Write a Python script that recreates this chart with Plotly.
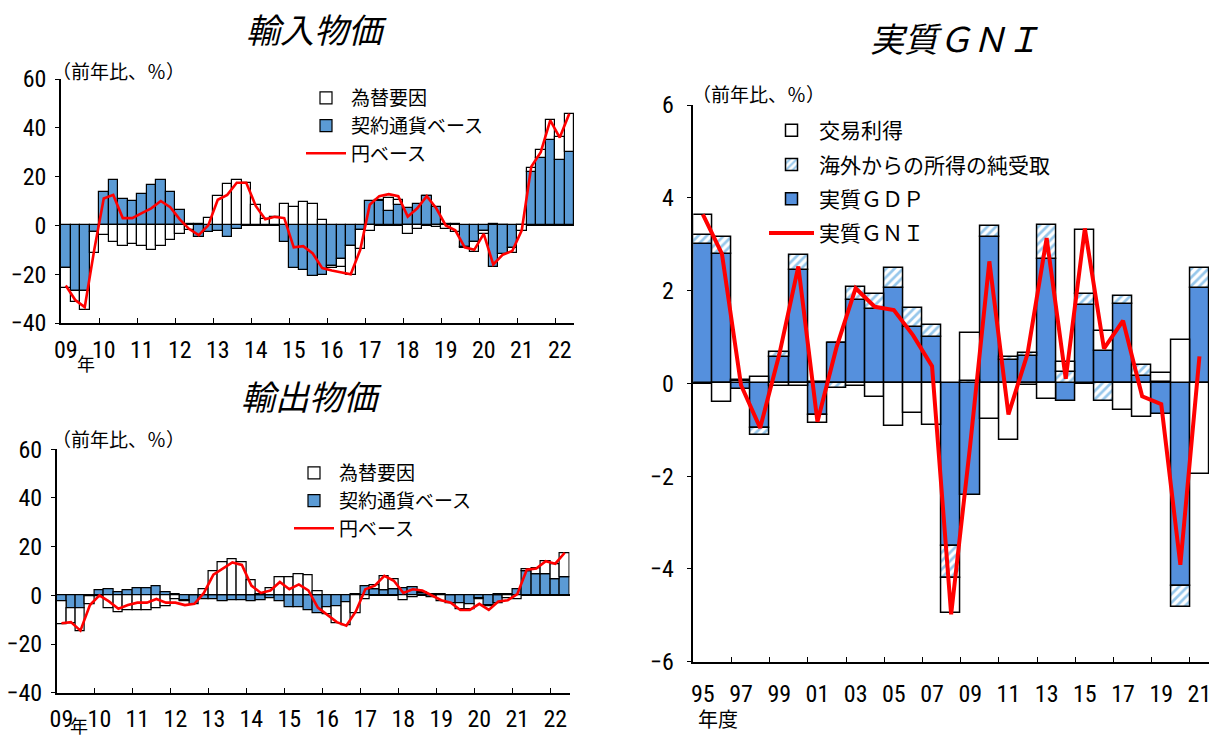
import plotly.graph_objects as go

# ---------------- data ----------------
# quarterly, 2009Q1 .. 2022Q2 (54 quarters)
q_start_year = 2009
n_quarters = 54

imp_contract = [-17.5, -26.8, -26.8, -2.7, 13.5, 18.6, 11.0, 10.1, 12.8, 16.6, 18.6, 13.5,
                6.2, 0.5, -4.8, -2.8, -2.1, -4.8, -1.4, -0.2, -0.3, 0.1, 0.1, -6.6,
                -17.5, -18.2, -20.7, -20.3, -16.5, -13.7, -8.5, -1.8, 10.1, 10.1, 6.1, 8.5,
                7.0, 8.9, 12.0, 7.7, 0.4, 0.4, -8.7, -7.0, -2.4, -16.9, -11.8, -9.2,
                0.3, 21.8, 27.6, 34.9, 26.9, 30.0]
imp_fx = [-8.1, -4.7, -8.0, -8.5, -3.8, -6.6, -8.5, -7.7, -8.6, -9.9, -8.5, -5.9,
          -3.5, -2.0, 0.5, 3.2, 12.1, 16.8, 18.6, 17.5, 8.5, 2.4, 3.5, 8.9,
          7.7, 9.6, 8.7, 2.3, -1.1, -3.5, -11.8, -7.9, -2.1, 0.5, 5.3, 1.9,
          -3.4, -1.4, 0.2, -0.7, -1.4, -2.8, -0.7, -3.8, -1.0, 0.5, 0.0, -2.1,
          -2.4, 1.9, 3.5, 8.5, 9.2, 15.8]
imp_yen = [-24.6, -30.6, -33.5, -10.0, 11.0, 12.5, 3.0, 3.0, 5.0, 7.0, 10.0, 7.5,
           2.5, -1.5, -4.0, 0.0, 10.5, 12.5, 17.5, 17.5, 8.0, 2.5, 3.5, 3.0,
           -9.0, -8.5, -11.5, -17.5, -18.5, -19.3, -20.0, -10.0, 8.5, 12.0, 12.8, 12.0,
           3.6, 7.0, 12.0, 7.0, 0.0, -2.0, -9.0, -10.0, -3.5, -16.0, -12.0, -10.5,
           -2.0, 24.0, 30.0, 43.0, 36.0, 45.8]

exp_contract = [-2.5, -5.2, -5.5, -0.5, 1.9, 2.3, 1.2, 2.2, 3.0, 3.0, 3.8, 1.1,
                0.3, -2.0, -3.7, -1.5, -1.5, -2.6, -1.9, -1.9, -2.6, -1.9, -1.4, -2.6,
                -4.9, -4.9, -6.3, -7.3, -4.8, -4.5, -2.9, 0.3, 3.7, 2.6, 2.2, 2.6,
                2.7, 3.4, 1.0, -0.7, 0.5, -3.3, -3.1, -3.8, -1.4, -4.2, -3.4, 0.3,
                2.3, 9.9, 8.5, 8.8, 6.4, 7.3]
exp_fx = [-9.3, -6.4, -9.3, -3.3, -0.5, -5.2, -7.0, -6.3, -6.3, -6.3, -5.2, -4.5,
          -1.8, -0.5, 0.2, 2.5, 9.9, 13.6, 15.0, 13.6, 6.2, 0.5, 3.0, 7.5,
          7.5, 8.8, 8.2, 1.6, -2.9, -6.9, -9.4, -7.3, -1.5, 1.4, 5.8, 4.0,
          -2.0, -0.7, 0.3, 0.3, -2.5, 0.2, -2.8, -1.8, -0.3, -0.5, 0.3, -1.1,
          -1.8, 0.7, 2.7, 5.2, 6.2, 9.8]
exp_yen = [-11.5, -11.0, -14.5, -4.0, 0.0, -2.5, -5.5, -4.0, -3.0, -3.0, -1.5, -3.0,
           -3.0, -4.0, -3.5, 1.0, 8.5, 11.0, 13.5, 12.5, 4.0, 1.0, 2.0, 5.5,
           2.5, 4.5, 2.0, -5.0, -8.0, -11.0, -12.5, -6.6, 2.5, 4.0, 8.0, 6.0,
           1.0, 2.5, 2.0, 0.0, -2.0, -3.0, -6.0, -6.0, -3.5, -6.0, -2.5, -2.0,
           0.5, 10.5, 11.0, 14.0, 13.0, 17.5]

q_year_ticks = list(range(2009, 2023))
q_year_labels = ["09", "10", "11", "12", "13", "14", "15", "16", "17", "18", "19", "20", "21", "22"]

# fiscal years 1995 .. 2021
gni_years = list(range(1995, 2022))
gni_gdp = [3.01, 2.79, -0.12, -0.96, 0.56, 2.45, -0.68, 0.88, 1.80, 1.60, 2.05, 1.22, 0.99,
           -3.50, -2.41, 3.15, 0.50, 0.58, 2.69, -0.37, 1.69, 0.70, 1.71, 0.16, -0.65, -4.36, 2.05]
gni_income = [0.18, 0.36, 0.05, -0.16, 0.12, 0.31, 0.03, -0.11, 0.28, 0.32, 0.43, 0.40, 0.27,
              -0.69, 0.05, 0.24, 0.06, 0.08, 0.72, 0.25, 0.23, -0.37, 0.17, 0.23, 0.03, -0.46, 0.43]
gni_trade = [0.43, -0.40, 0.02, 0.14, -0.06, -0.06, -0.18, 0.0, -0.05, -0.30, -0.93, -0.63, -0.89,
             -0.77, 1.04, -0.76, -1.23, -0.04, -0.33, 0.21, 1.39, 0.43, -0.57, -0.73, 0.19, 0.93, -1.95]
gni_real = [3.64, 2.79, -0.04, -0.96, 0.62, 2.52, -0.83, 0.78, 2.05, 1.65, 1.58, 1.04, 0.37,
            -4.98, -1.32, 2.63, -0.67, 0.64, 3.13, 0.10, 3.34, 0.75, 1.35, -0.28, -0.45, -3.91, 0.58]
gni_tick_years = list(range(1995, 2022, 2))
gni_tick_labels = ["95", "97", "99", "01", "03", "05", "07", "09", "11", "13", "15", "17", "19", "21"]

# ---------------- styles ----------------
W, H = 1217, 736
CJK = "Noto Sans CJK JP"
NUM = "Liberation Sans Narrow, Arial Narrow, Roboto Condensed, Liberation Sans, sans-serif"
BLUE_L = "#5B9BD5"
BLUE_R = "#5590DD"
HATCH = "#2E8FD8"
RED = "#FF0000"

def px_x(p):
    return p / W

def px_y(p):
    return 1 - p / H

q_x = [q_start_year + (i + 0.5) / 4 for i in range(n_quarters)]

fig = go.Figure()

def add_price_panel(contract, fx, yen, xa, ya, leg):
    fig.add_trace(go.Bar(x=q_x, y=contract, width=0.25, name="契約通貨ベース",
                         marker=dict(color=BLUE_L, line=dict(color="black", width=1.2)),
                         xaxis=xa, yaxis=ya, legend=leg, legendrank=2, legendgroup=leg + "b"))
    fig.add_trace(go.Bar(x=q_x, y=fx, width=0.25, name="為替要因",
                         marker=dict(color="white", line=dict(color="black", width=1.2)),
                         xaxis=xa, yaxis=ya, legend=leg, legendrank=1, legendgroup=leg + "a"))
    fig.add_trace(go.Scatter(x=q_x, y=yen, mode="lines", name="円ベース",
                             line=dict(color=RED, width=2.6),
                             xaxis=xa, yaxis=ya, legend=leg, legendrank=3, legendgroup=leg + "c"))

add_price_panel(imp_contract, imp_fx, imp_yen, "x", "y", "legend")
add_price_panel(exp_contract, exp_fx, exp_yen, "x2", "y2", "legend2")

fig.add_trace(go.Bar(x=gni_years, y=gni_gdp, width=1.0, name="実質ＧＤＰ",
                     marker=dict(color=BLUE_R, line=dict(color="black", width=1.5)),
                     xaxis="x3", yaxis="y3", legend="legend3", legendrank=3, legendgroup="g3"))
fig.add_trace(go.Bar(x=gni_years, y=gni_income, width=1.0, name="海外からの所得の純受取",
                     marker=dict(color="white", line=dict(color="black", width=1.5),
                                 pattern=dict(shape="/", fgcolor=HATCH, bgcolor="white",
                                              size=6, solidity=0.45)),
                     xaxis="x3", yaxis="y3", legend="legend3", legendrank=2, legendgroup="g2"))
fig.add_trace(go.Bar(x=gni_years, y=gni_trade, width=1.0, name="交易利得",
                     marker=dict(color="white", line=dict(color="black", width=1.5)),
                     xaxis="x3", yaxis="y3", legend="legend3", legendrank=1, legendgroup="g1"))
fig.add_trace(go.Scatter(x=gni_years, y=gni_real, mode="lines", name="実質ＧＮＩ",
                         line=dict(color=RED, width=4),
                         xaxis="x3", yaxis="y3", legend="legend3", legendrank=4, legendgroup="g4"))

tickfont = dict(family=NUM, size=24, color="black")

def q_xaxis(x0, x1, anchor):
    return dict(domain=[px_x(x0), px_x(x1)], anchor=anchor, range=[2009, 2022.5],
                tickmode="array", tickvals=[y + 0.125 for y in q_year_ticks], ticktext=q_year_labels,
                ticks="", showline=True, linecolor="black", linewidth=1.5, showgrid=False,
                zeroline=False, tickfont=tickfont, automargin=False, ticklabelstandoff=4,
                minor=dict(tickmode="array", tickvals=q_year_ticks[1:], ticks="inside",
                           ticklen=5, tickcolor="black", tickwidth=1.2, showgrid=False))

def q_yaxis(y0, y1, anchor):
    return dict(domain=[px_y(y1), px_y(y0)], anchor=anchor, range=[-40, 60], dtick=20,
                tickmode="linear", tick0=0, ticks="outside", ticklen=4, tickcolor="black",
                showline=True, linecolor="black", linewidth=1.5, showgrid=False,
                zeroline=True, zerolinecolor="black", zerolinewidth=1.5, tickfont=tickfont,
                automargin=False, ticklabelstandoff=4)

fig.update_layout(
    width=W, height=H,
    margin=dict(l=0, r=0, t=0, b=0, autoexpand=False),
    paper_bgcolor="white", plot_bgcolor="white",
    barmode="relative", bargap=0,
    xaxis=q_xaxis(61, 574, "y"),
    yaxis=q_yaxis(79, 323, "x"),
    xaxis2=q_xaxis(56.7, 569.5, "y2"),
    yaxis2=q_yaxis(449.3, 692.7, "x2"),
    xaxis3=dict(domain=[px_x(693.3), px_x(1209)], anchor="y3", range=[1994.5, 2021.5],
                tickmode="array", tickvals=gni_tick_years, ticktext=gni_tick_labels,
                ticks="", showline=True, linecolor="black", linewidth=1.5, showgrid=False,
                zeroline=False, tickfont=tickfont, automargin=False, ticklabelstandoff=10,
                minor=dict(tickmode="array", tickvals=[y + 0.5 for y in range(1996, 2021, 2)],
                           ticks="inside", ticklen=5, tickcolor="black", tickwidth=1.2,
                           showgrid=False)),
    yaxis3=dict(domain=[px_y(661.7), px_y(105)], anchor="x3", range=[-6, 6], dtick=2,
                tickmode="linear", tick0=0, ticks="outside", ticklen=5, tickcolor="black",
                showline=True, linecolor="black", linewidth=1.5, showgrid=False,
                zeroline=True, zerolinecolor="black", zerolinewidth=1.5, tickfont=tickfont,
                automargin=False, ticklabelstandoff=8),
    legend=dict(x=px_x(301), y=px_y(79), xanchor="left", yanchor="top",
                font=dict(family=CJK, size=19, color="black"), bgcolor="rgba(0,0,0,0)",
                traceorder="grouped", tracegroupgap=0, itemwidth=40),
    legend2=dict(x=px_x(289), y=px_y(454), xanchor="left", yanchor="top",
                 font=dict(family=CJK, size=19, color="black"), bgcolor="rgba(0,0,0,0)",
                 traceorder="grouped", tracegroupgap=0, itemwidth=40),
    legend3=dict(x=px_x(764), y=px_y(110), xanchor="left", yanchor="top",
                 font=dict(family=CJK, size=21, color="black"), bgcolor="rgba(0,0,0,0)",
                 traceorder="grouped", tracegroupgap=4, itemwidth=45),
    showlegend=True,
)

ann_font = dict(family=CJK, size=19, color="black")
title_font = dict(family=CJK, size=34, color="black")
annotations = [
    dict(text="<i>輸入物価</i>", x=px_x(316), y=px_y(28), font=title_font),
    dict(text="<i>輸出物価</i>", x=px_x(311), y=px_y(396), font=title_font),
    dict(text="<i>実質ＧＮＩ</i>", x=px_x(955), y=px_y(38), font=title_font),
    dict(text="（前年比、％）", x=px_x(50), y=px_y(70), xanchor="left", font=ann_font),
    dict(text="（前年比、％）", x=px_x(50), y=px_y(438), xanchor="left", font=ann_font),
    dict(text="（前年比、％）", x=px_x(690), y=px_y(93), xanchor="left", font=ann_font),
    dict(text="年", x=px_x(86), y=px_y(363), font=dict(family=CJK, size=18, color="black")),
    dict(text="年", x=px_x(79), y=px_y(725), font=dict(family=CJK, size=18, color="black")),
    dict(text="年度", x=px_x(718), y=px_y(718), font=dict(family=CJK, size=20, color="black")),
]
for a in annotations:
    a.update(xref="paper", yref="paper", showarrow=False)
    a.setdefault("xanchor", "center")
    a.setdefault("yanchor", "middle")
fig.update_layout(annotations=annotations)

fig.write_html("out.html", config={"displayModeBar": False},
               post_script="document.body.style.margin='0';document.body.style.overflow='hidden';")
